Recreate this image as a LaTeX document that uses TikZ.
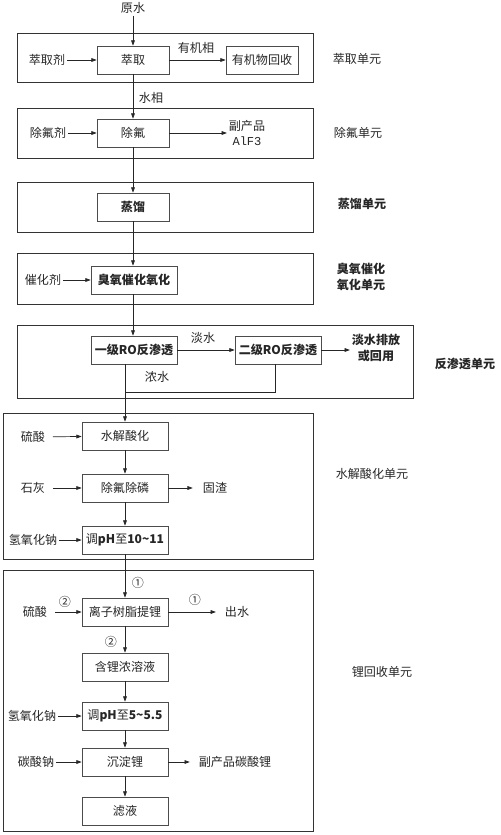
\documentclass[tikz,border=0pt]{standalone}
\usepackage{fontspec}
\setmainfont{Noto Sans CJK SC}
\newfontfamily\latinmono{Liberation Mono}
\usetikzlibrary{arrows.meta}

\newcommand{\txtsize}{\fontsize{10.3}{13.6}\selectfont}

\tikzset{
  unitframe/.style={draw=black!80, line width=0.7pt},
  procbox/.style={draw=black!70, line width=0.6pt, minimum width=2.58cm,
    minimum height=0.84cm, inner sep=1pt},
  shortbox/.style={procbox, minimum width=2.16cm},
  txt/.style={inner sep=1.5pt, align=center},
  flow/.style={draw=black!85, line width=0.6pt, -{Triangle[length=4.5pt,width=3.2pt]}},
  pipe/.style={draw=black!85, line width=0.6pt},
}

\begin{document}
\begin{tikzpicture}[x=0.03cm, y=-0.03cm, every node/.style={font=\txtsize, text=black!85}]
\useasboundingbox (0,0) rectangle (500,835);

% unit frames
\draw[unitframe] (17,33) rectangle (313,82);
\draw[unitframe] (17,108) rectangle (313,158);
\draw[unitframe] (17,182) rectangle (313,232);
\draw[unitframe] (17,253) rectangle (313,304);
\draw[unitframe] (17,325) rectangle (413,398);
\draw[unitframe] (3,413) rectangle (313,559);
\draw[unitframe] (3,570) rectangle (313,831);

% unit names
\node[txt] (uext) at (357,59) {萃取单元};
\node[txt] (udef) at (358,133) {除氟单元};
\node[txt] (udist) at (362,204) {\bfseries 蒸馏单元};
\node[txt] (uozone) at (361,277) {\bfseries 臭氧催化\\\bfseries 氧化单元};
\node[txt] (uro) at (465,364) {\bfseries 反渗透单元};
\node[txt] (uhyd) at (372,474) {水解酸化单元};
\node[txt] (uli) at (382,672) {锂回收单元};

% extraction
\node[txt] (raw) at (133,8) {原水};
\node[shortbox] (ext) at (133,60) {萃取};
\node[txt] (extag) at (47,60) {萃取剂};
\node[shortbox] (orgrec) at (262,60) {有机物回收};
\draw[flow] (raw) -- (ext);
\draw[flow] (extag) -- (ext);
\draw[flow] (ext) -- (orgrec);
\node[txt] (lorg) at (196,48) {有机相};

% defluorination
\node[shortbox] (defl) at (133,133) {除氟};
\node[txt] (deflag) at (48,133) {除氟剂};
\node[txt] (alf) at (247,133) {副产品\\{\latinmono AlF3}};
\draw[flow] (ext) -- (defl);
\node[txt] (lwat) at (151,98) {水相};
\draw[flow] (deflag) -- (defl);
\draw[flow] (defl) -- (alf.west |- defl);

% distillation
\node[shortbox] (dist) at (133,207) {\bfseries 蒸馏};
\draw[flow] (defl) -- (dist);

% ozone oxidation
\node[procbox] (ozone) at (134,280) {\bfseries 臭氧催化氧化};
\node[txt] (cat) at (43,280) {催化剂};
\draw[flow] (dist) -- (dist |- ozone.north);
\draw[flow] (cat) -- (ozone);

% reverse osmosis
\node[procbox] (ro1) at (134,350) {\bfseries 一级RO反渗透};
\node[procbox] (ro2) at (278,350) {\bfseries 二级RO反渗透};
\node[txt] (fresh) at (376,348) {\bfseries 淡水排放\\\bfseries 或回用};
\draw[flow] (dist |- ozone.south) -- (dist |- ro1.north);
\draw[flow] (ro1) -- (ro2);
\node[txt] (lfresh) at (203,338) {淡水};
\draw[flow] (ro2) -- (fresh.west |- ro2);
\node[txt] (lconc) at (157,377) {浓水};

% hydrolysis acidification
\node[procbox] (hyd) at (125,436) {水解酸化};
\node[procbox] (dfp) at (125,488) {除氟除磷};
\node[procbox] (ph1) at (125,540) {调\textbf{pH}至\textbf{10\textasciitilde11}};
\node[txt] (acid1) at (33,437) {硫酸};
\node[txt] (lime) at (33,488) {石灰};
\node[txt] (naoh1) at (33,540) {氢氧化钠};
\node[txt] (slag) at (215,488) {固渣};
\coordinate (j1) at (125,392);
\coordinate (j2) at (275,392);
\draw[pipe] (j2 |- ro2.south) -- (j2) -- (j1);
\draw[flow] (hyd |- ro1.south) -- (hyd);
\draw[flow, shorten <=5pt] (acid1) -- (hyd);
\draw[flow] (hyd) -- (dfp);
\draw[flow, shorten <=5pt] (lime) -- (dfp);
\draw[flow, shorten >=7pt] (dfp) -- (slag);
\draw[flow] (dfp) -- (ph1);
\draw[flow] (naoh1) -- (ph1);

% lithium recovery
\node[procbox] (ion) at (125,612) {离子树脂提锂};
\node[procbox] (lic) at (125,667) {含锂浓溶液};
\node[procbox] (ph2) at (125,716) {调\textbf{pH}至\textbf{5\textasciitilde5.5}};
\node[procbox] (prec) at (125,762) {沉淀锂};
\node[procbox] (filt) at (125,811) {滤液};
\node[txt] (acid2) at (35,612) {硫酸};
\node[txt] (naoh2) at (32,716) {氢氧化钠};
\node[txt] (soda) at (36,762) {碳酸钠};
\node[txt] (outw) at (237,612) {出水};
\node[txt] (liprod) at (235,762) {副产品碳酸锂};
\draw[flow] (ph1) -- (ion);
\node[txt] (s1a) at (138,583) {①};
\draw[flow, shorten <=5pt] (acid2) -- (ion);
\node[txt] (s2a) at (65,602) {②};
\draw[flow, shorten >=6pt] (ion) -- (outw);
\node[txt] (s1b) at (195,600) {①};
\draw[flow] (ion) -- (lic);
\node[txt] (s2b) at (111,642) {②};
\draw[flow] (lic) -- (ph2);
\draw[flow] (naoh2) -- (ph2);
\draw[flow] (ph2) -- (prec);
\draw[flow] (soda) -- (prec);
\draw[flow, shorten >=6pt] (prec) -- (liprod);
\draw[flow] (prec) -- (filt);
\end{tikzpicture}
\end{document}
